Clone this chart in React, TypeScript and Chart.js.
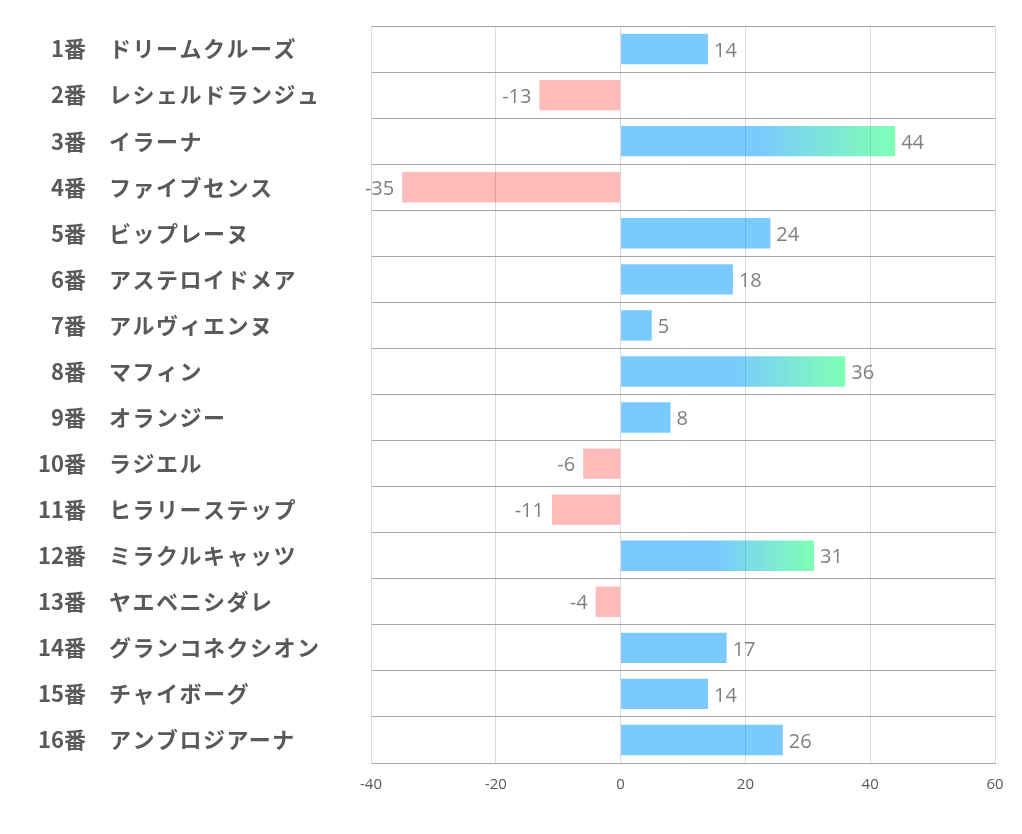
import React, { useEffect, useRef } from "react";
import { Chart, registerables } from "chart.js";

Chart.register(...registerables);

const numbers = ["1番","2番","3番","4番","5番","6番","7番","8番","9番","10番","11番","12番","13番","14番","15番","16番"];
const horses = ["ドリームクルーズ","レシェルドランジュ","イラーナ","ファイブセンス","ビップレーヌ","アステロイドメア","アルヴィエンヌ","マフィン","オランジー","ラジエル","ヒラリーステップ","ミラクルキャッツ","ヤエベニシダレ","グランコネクシオン","チャイボーグ","アンブロジアーナ"];
const values = [14, -13, 44, -35, 24, 18, 5, 36, 8, -6, -11, 31, -4, 17, 14, 26];
const xTicks = [-40, -20, 0, 20, 40, 60];

const BLUE = "rgba(0,153,255,0.52)";
const GREEN = "rgba(0,255,106,0.5)";
const PINK = "rgba(255,0,0,0.27)";

export default function App() {
  const ref = useRef<HTMLCanvasElement | null>(null);
  useEffect(() => {
    const canvas = ref.current!;
    const labelsPlugin = {
      id: "labels",
      afterDraw(chart: any) {
        const ctx = chart.ctx;
        const y = chart.scales.y;
        ctx.save();
        ctx.fillStyle = "#595959";
        ctx.font = 'bold 22px "Noto Sans CJK JP"';
        ctx.textBaseline = "middle";
        for (let i = 0; i < horses.length; i++) {
          const py = y.getPixelForValue(i);
          ctx.textAlign = "right";
          ctx.letterSpacing = "0px";
          ctx.fillText(numbers[i], 86, py);
          ctx.textAlign = "left";
          ctx.letterSpacing = "1.5px";
          ctx.fillText(horses[i], 109, py);
        }
        ctx.letterSpacing = "0px";
        const meta = chart.getDatasetMeta(0);
        ctx.fillStyle = "#7f7f7f";
        ctx.font = '20px "Open Sans"';
        meta.data.forEach((bar: any, i: number) => {
          const v = values[i];
          if (v >= 0) {
            ctx.textAlign = "left";
            ctx.fillText(String(v), bar.x + 6, bar.y + 2);
          } else {
            ctx.textAlign = "right";
            ctx.fillText(String(v), bar.x - 8, bar.y + 2);
          }
        });
        ctx.restore();
      },
    };
    const chart = new Chart(canvas, {
      type: "bar",
      data: {
        labels: horses,
        datasets: [
          {
            data: values,
            backgroundColor: (c: any) => {
              const v = values[c.dataIndex];
              if (v < 0) return PINK;
              if (v >= 30 && c.chart.scales && c.chart.scales.x) {
                const xs = c.chart.scales.x;
                const x0 = xs.getPixelForValue(v / 2);
                const x1 = xs.getPixelForValue(v);
                if (!isFinite(x0) || !isFinite(x1)) return BLUE;
                const g = c.chart.ctx.createLinearGradient(x0, 0, x1, 0);
                g.addColorStop(0, BLUE);
                g.addColorStop(1, GREEN);
                return g;
              }
              return BLUE;
            },
            borderWidth: 0,
            barPercentage: 0.66,
            categoryPercentage: 1,
          },
        ],
      },
      options: {
        indexAxis: "y",
        animation: false,
        responsive: false,
        maintainAspectRatio: false,
        layout: { padding: { left: 0, right: 27, top: 26, bottom: 0 } },
        plugins: { legend: { display: false }, tooltip: { enabled: false } },
        scales: {
          x: {
            min: -40,
            max: 60,
            afterBuildTicks: (s: any) => {
              s.ticks = xTicks.map((v) => ({ value: v }));
            },
            afterFit: (s: any) => {
              s.height = 71;
            },
            grid: { color: "#d9d9d9", drawTicks: false, lineWidth: 1 },
            border: { color: "#a6a6a6", width: 1 },
            ticks: {
              color: "#595959",
              font: { family: "Open Sans", size: 15 },
              padding: 13,
            },
          },
          y: {
            afterFit: (s: any) => {
              s.width = 371;
            },
            grid: { color: "#a6a6a6", offset: true, drawTicks: false, lineWidth: 1 },
            border: { color: "#d9d9d9", width: 1 },
            ticks: { display: false },
          },
        },
      },
      plugins: [labelsPlugin],
    } as any);
    return () => chart.destroy();
  }, []);
  return (
    <div style={{ position: "fixed", left: 0, top: 0, width: 1022, height: 834, background: "#fff" }}>
      <canvas ref={ref} width={1022} height={834} style={{ width: 1022, height: 834 }} />
    </div>
  );
}
